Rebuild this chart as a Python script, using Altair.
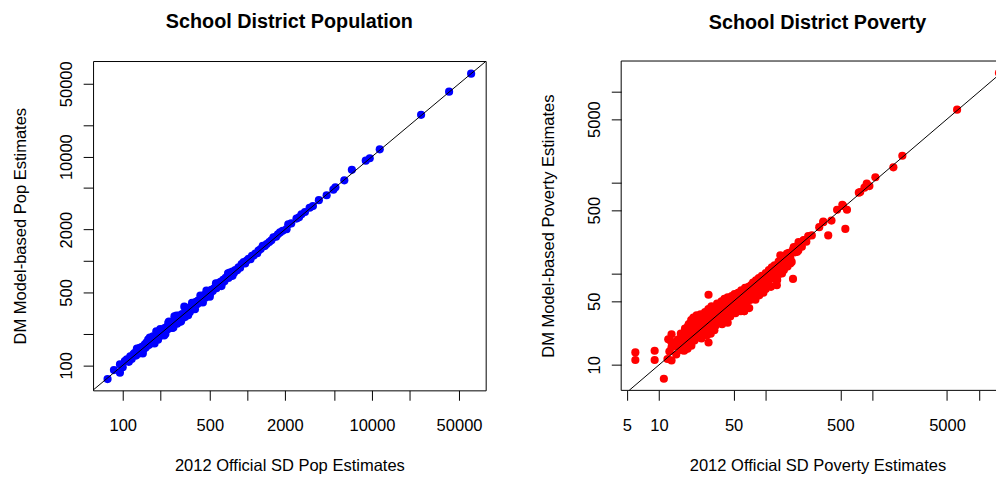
import altair as alt
import pandas as pd

# ---------------- data ----------------
pop_official = [75.6, 85, 95, 95, 100, 104, 108, 112, 115, 118,
                122, 125, 128, 132, 135, 137, 140, 143, 147, 150,
                153, 155, 158, 160, 163, 166, 170, 173, 175, 178,
                182, 186, 188, 192, 195, 198, 202, 204, 208, 212,
                217, 220, 225, 228, 232, 236, 240, 245, 250, 255,
                260, 264, 268, 273, 278, 283, 288, 294, 294, 300,
                305, 312, 316, 322, 328, 332, 340, 346, 353, 360,
                368, 375, 382, 387, 395, 403, 410, 423, 430, 440,
                450, 460, 470, 480, 493, 505, 515, 528, 540, 552,
                565, 575, 590, 600, 611, 625, 640, 655, 670, 690,
                705, 724, 740, 760, 780, 800, 828, 850, 875, 900,
                935, 960, 990, 1023, 1060, 1090, 1122, 1160, 1200, 1230,
                1280, 1330, 1380, 1430, 1500, 1560, 1620, 1700, 1760, 1830,
                1920, 2065, 2130, 2250, 2480, 2600, 2720, 2900, 3160, 3360,
                3750, 4330, 4900, 5090, 6000, 6900, 8920, 9600, 11550, 24800,
                41600, 62500,
                130, 145, 165, 180, 200, 215, 235, 255, 270, 290,
                320, 335, 360, 380, 420, 440, 470, 500, 560, 620,
                700, 760]
pop_model = [73.7, 90, 85, 102, 96, 110, 114, 108, 122, 115,
             128, 132, 124, 140, 130, 147, 138, 150, 142, 158,
             148, 165, 155, 176, 157, 170, 165, 181, 190, 172,
             188, 212, 180, 176, 200, 190, 210, 197, 218, 204,
             228, 200, 232, 220, 255, 226, 250, 245, 228, 265,
             294, 255, 275, 250, 288, 300, 298, 294, 264, 310,
             295, 365, 290, 335, 320, 328, 352, 325, 365, 348,
             380, 362, 395, 407, 385, 418, 398, 432, 420, 455,
             471, 445, 485, 468, 514, 490, 530, 515, 545, 560,
             548, 608, 580, 620, 631, 612, 660, 640, 690, 703,
             688, 773, 720, 790, 765, 820, 813, 870, 860, 935,
             977, 945, 1010, 1050, 1040, 1122, 1128, 1180, 1190, 1260,
             1300, 1400, 1390, 1455, 1520, 1580, 1690, 1710, 1800, 1880,
             1950, 2020, 2250, 2290, 2550, 2620, 2800, 2950, 3240, 3360,
             3830, 4270, 4830, 5080, 5930, 7480, 9160, 9660, 11750, 25200,
             42000, 62500,
             145, 130, 184, 162, 222, 193, 262, 230, 300, 262,
             355, 302, 398, 345, 466, 400, 520, 455, 610, 575,
             760, 720]

pov_official = [
    12.5, 13, 14, 14.5, 15, 15.5, 16, 16, 16.5, 17, 17.5, 18, 18, 18.5, 19, 19, 19.5, 20, 20,
    20.5, 21, 21, 21.5, 22, 22, 22.5, 23, 23, 23.5, 24, 24, 24.5, 25, 25,
    25.5, 26, 26, 26.5, 27, 27, 27.5, 28, 28, 28.5, 29, 29, 29.5, 30, 30,
    30.5, 31, 31, 31.5, 32, 32, 32.5, 33, 33, 33.5, 34, 34, 34.5, 35, 35, 35.5, 36, 36,
    37, 37, 37.5, 38, 38.5, 39, 39, 40, 40, 41, 41, 42, 42, 43, 43.5, 44, 44, 45, 45,
    46, 46.5, 47, 48, 48, 49, 50, 50, 51, 52, 52, 53, 54, 55, 55, 56, 57, 58,
    59, 60, 61, 62, 63, 63, 64, 65, 66, 67, 68, 69, 70, 71, 72, 73, 74, 75,
    76, 78, 79, 80, 81, 83, 84, 86, 87, 88, 90, 92, 93, 95, 97, 98, 100, 100,
    103, 105, 107, 109, 112, 114, 116, 118, 121, 124, 127, 129, 132, 135, 138,
    142, 145, 148, 152, 156, 160, 165, 170, 175, 180, 188, 195, 202, 210, 218, 228, 240, 250,
    6.0, 6.0, 9.1, 9.1, 11.1, 12, 13.1, 12.2, 13.1, 13.1, 14.6, 17.2, 18.1, 20.1, 18.7,
    29.1, 29.1, 62.7, 71.3, 58.3, 180, 128, 142, 103, 170, 137,
    385, 557, 577, 522, 466, 530, 413, 346, 346, 317, 270, 226, 203, 183, 196, 158,
    767, 745, 841, 936, 884, 1065, 1570, 1905, 6210, 15300]
pov_model = [
    14, 18, 16, 13, 19, 15.5, 22, 17, 14.5, 20, 25, 17.5, 22, 15, 28, 20, 24, 17, 31,
    21, 26, 33, 18.5, 23, 29, 35, 20, 25, 31, 22, 27, 36, 19.5, 24,
    30, 33, 22, 27, 38, 25, 30, 21, 34, 27, 41, 24, 31, 28, 36,
    22, 44, 30, 26, 34, 39, 29, 24, 36, 42, 31, 27, 38, 33, 47, 29, 40, 35,
    30, 45, 38, 33, 50, 41, 28, 36, 44, 53, 39, 32, 47, 41, 36, 55, 29, 45, 39,
    50, 34, 43, 57, 38, 47, 52, 42, 60, 37, 48, 55, 44, 62, 40, 51, 47, 58,
    66, 45, 54, 60, 39, 50, 70, 57, 48, 64, 53, 72, 42, 60, 52, 75, 66, 56,
    80, 62, 71, 52, 85, 74, 65, 90, 58, 79, 70, 95, 82, 62, 88, 74, 102, 68,
    92, 80, 110, 96, 72, 118, 100, 88, 124, 108, 75, 118, 136, 100, 122,
    146, 128, 110, 155, 140, 120, 170, 150, 135, 185, 172, 200, 180, 215, 198, 235, 225, 260,
    13.7, 11.3, 14.3, 11.3, 7.05, 11.6, 11.2, 19.1, 21.7, 15.6, 16.2, 14.3, 19.1, 16.2, 26.7,
    58.9, 17.6, 38.9, 52, 38.9, 87.9, 85.7, 101, 72.6, 130, 160,
    264, 311, 505, 572, 505, 557, 384, 374, 368, 325, 264, 233, 223, 197, 174, 167,
    791, 778, 883, 919, 982, 1150, 1476, 1977, 6350, 16000]

pop_x_domain = [57.8, 81800]
pop_y_domain = [57.5, 82600]
pov_x_domain = [4.42, 14380]     # visible part of the x range (panel is cut at the window edge)
pov_y_domain = [5.25, 21700]

pop_ticks = [100, 200, 500, 1000, 2000, 5000, 10000, 20000, 50000]
pop_labels = [100, 500, 2000, 10000, 50000]
pov_x_ticks = [5, 10, 50, 100, 500, 1000, 5000, 10000]
pov_x_labels = [5, 10, 50, 500, 5000]
pov_y_ticks = [10, 50, 100, 500, 1000, 5000, 10000]
pov_y_labels = [10, 50, 500, 5000]

assert len(pop_official) == len(pop_model)
assert len(pov_official) == len(pov_model)

FONT = "Liberation Sans"
FS = 16.7
H = 333
W_LEFT = 397
W_RIGHT = 379
FULL_W = 397


def label_expr(vals):
    return "indexof([" + ",".join(str(v) for v in vals) + "], datum.value) >= 0 ? datum.label : ''"


common_axis = dict(domain=False, grid=False, ticks=True, tickSize=10, tickColor="black",
                   tickWidth=1, labelFont=FONT, labelFontSize=FS, labelColor="black",
                   labelOverlap=False, labelFlush=False, titleFont=FONT, titleFontSize=FS,
                   titleFontWeight="normal", titleColor="black", format="d")


def panel(xs, ys, xdom, ydom, xt, xl, yt, yl, xtitle, ytitle, title, color, width, frame):
    pts = pd.DataFrame({"x": xs, "y": ys})
    lo = max(xdom[0], ydom[0])
    hi = min(xdom[1], ydom[1])
    ref = pd.DataFrame({"x": [lo, hi], "y": [lo, hi]})
    xscale = alt.Scale(type="log", domain=xdom, nice=False, zero=False)
    yscale = alt.Scale(type="log", domain=ydom, nice=False, zero=False)
    xaxis = alt.Axis(values=xt, labelExpr=label_expr(xl), title=xtitle,
                     labelPadding=18, labelBaseline="top",
                     titleBaseline="alphabetic", titleY=81, titleX=FULL_W / 2,
                     **common_axis)
    yaxis = alt.Axis(values=yt, labelExpr=label_expr(yl), title=ytitle,
                     labelAngle=270, labelAlign="center", labelBaseline="alphabetic",
                     labelPadding=12, titleX=-68, titleBaseline="alphabetic",
                     titleAngle=270, **common_axis)
    points = alt.Chart(pts).mark_circle(size=68, color=color, opacity=1, clip=True).encode(
        x=alt.X("x:Q", scale=xscale, axis=xaxis),
        y=alt.Y("y:Q", scale=yscale, axis=yaxis),
    )
    line = alt.Chart(ref).mark_line(color="black", strokeWidth=1).encode(
        x=alt.X("x:Q", scale=xscale),
        y=alt.Y("y:Q", scale=yscale),
    )
    layers = [points, line]
    props = dict(
        width=width, height=H,
        title=alt.TitleParams(title, font=FONT, fontSize=20, fontWeight="bold",
                              anchor="middle", color="black", offset=12,
                              baseline="alphabetic", dx=(FULL_W - width) / 2),
    )
    if frame:
        props["view"] = alt.ViewBackground(stroke="black", strokeWidth=1)
    else:
        # box continues past the window edge: only top, left and bottom sides are visible
        one = alt.Data(values=[{"k": 1}])
        top = alt.Chart(one).mark_rule(color="black", strokeWidth=1).encode(
            x=alt.value(0), x2=alt.value(width), y=alt.value(0))
        bottom = alt.Chart(one).mark_rule(color="black", strokeWidth=1).encode(
            x=alt.value(0), x2=alt.value(width), y=alt.value(H))
        leftside = alt.Chart(one).mark_rule(color="black", strokeWidth=1).encode(
            x=alt.value(0), y=alt.value(0), y2=alt.value(H))
        layers += [top, bottom, leftside]
        props["view"] = alt.ViewBackground(stroke=None)
    return alt.layer(*layers).properties(**props)


left = panel(pop_official, pop_model, pop_x_domain, pop_y_domain,
             pop_ticks, pop_labels, pop_ticks, pop_labels,
             "2012 Official SD Pop Estimates", "DM Model-based Pop Estimates",
             "School District Population", "#0000FF", W_LEFT, True)
right = panel(pov_official, pov_model, pov_x_domain, pov_y_domain,
              pov_x_ticks, pov_x_labels, pov_y_ticks, pov_y_labels,
              "2012 Official SD Poverty Estimates", "DM Model-based Poverty Estimates",
              "School District Poverty", "#FF0000", W_RIGHT, False)

chart = alt.hconcat(left, right, spacing=53).properties(
    padding={"left": 4, "top": 0, "right": 0, "bottom": 0},
    background="white",
).configure(font=FONT).configure_view(stroke="black", strokeWidth=1)

chart.save("out.html", embed_options={"renderer": "svg", "actions": False})
